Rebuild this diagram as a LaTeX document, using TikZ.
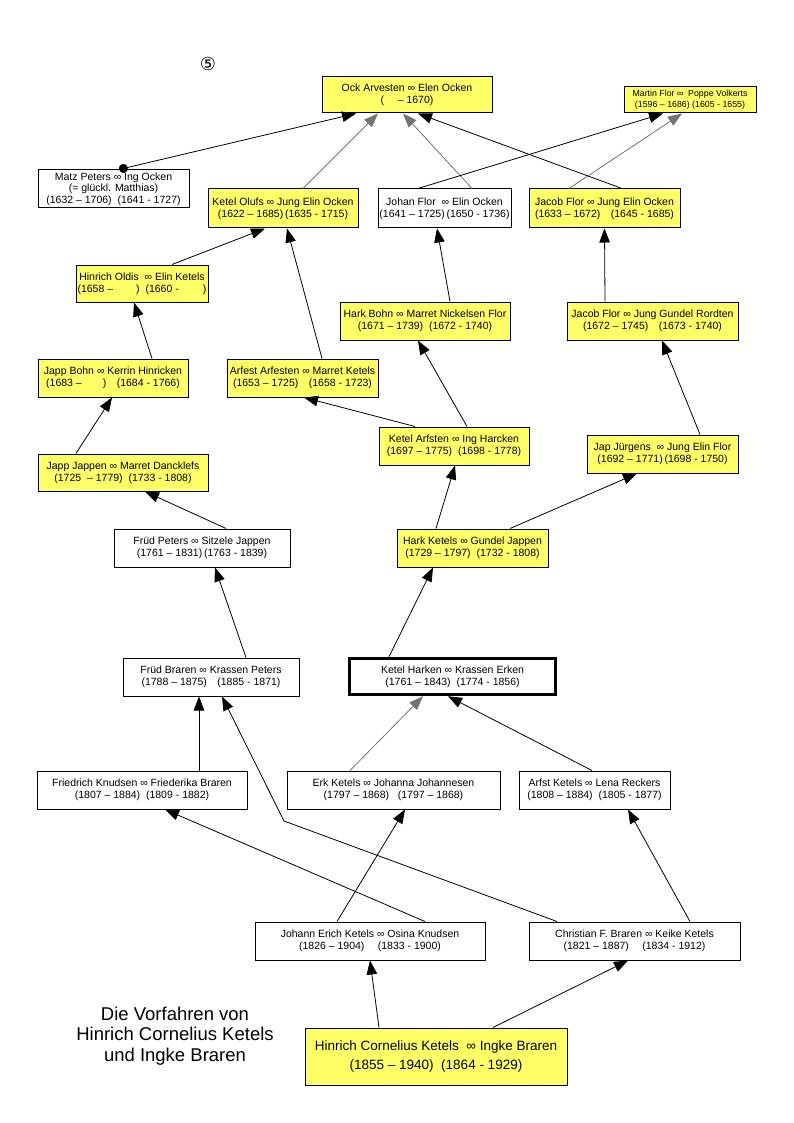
\documentclass[tikz,border=0pt]{standalone}
\usepackage{fontspec}
\setmainfont{Liberation Sans}
\newfontfamily\symfont{DejaVu Sans}
\usetikzlibrary{arrows.meta}

\definecolor{famyellow}{RGB}{255,255,102}

\tikzset{
  fam/.style={draw, fill=famyellow, line width=1pt, minimum height=38, inner sep=1pt, align=center,
    font=\fontsize{10.5}{12}\selectfont},
  famwhite/.style={fam, fill=white},
  link/.style={line width=0.8pt, -{Stealth[length=14pt,width=10.5pt,inset=0pt]}},
  faint/.style={link, draw=black!55}
}

\begin{document}
\begin{tikzpicture}[x=1pt,y=-1pt]

            \useasboundingbox (0,0) rectangle (794,1123);

            \node (five) at (208,64) {\symfont\fontsize{18}{18}\selectfont ⑤};

            % top generation
            \node[fam, minimum width=170, minimum height=36] (ock) at (407,95)
              {Ock Arvesten ∞ Elen Ocken\\(\hspace{1.3em}– 1670)\hspace{60pt}};
            \node[fam, minimum width=132, minimum height=26, font=\fontsize{8.8}{11}\selectfont] (martin) at (690,100)
              {Martin Flor ∞~~Poppe Volkerts\\(1596 – 1686)~(1605 - 1655)};

            \node[famwhite, minimum width=151, font=\fontsize{10.5}{11.5}\selectfont] (matz) at (113.5,189)
              {Matz Peters ∞ Ing Ocken\\(= glückl. Matthias)\hspace{36pt}\\(1632 – 1706)~~(1641 - 1727)};
            \node[fam, minimum width=150, minimum height=39] (olufs) at (283,208.5)
              {Ketel Olufs ∞ Jung Elin Ocken\\(1622 – 1685)\,(1635 - 1715)};
            \node[famwhite, minimum width=133, minimum height=39] (johan) at (444.5,208.5)
              {Johan Flor ~∞ Elin Ocken\\(1641 – 1725)\,(1650 - 1736)};
            \node[fam, minimum width=151, minimum height=39] (jacobflor) at (604.5,208.5)
              {Jacob Flor ∞ Jung Elin Ocken\\(1633 – 1672)\quad(1645 - 1685)};

            \node[fam, minimum width=132, minimum height=37] (oldis) at (142,283.5)
              {Hinrich Oldis ~∞ Elin Ketels\\(1658 –\hspace{2.2em})~~(1660 -\hspace{2.3em})};
            \node[fam, minimum width=170] (harkbohn) at (425,321)
              {Hark Bohn ∞ Marret Nickelsen Flor\\(1671 – 1739)~~(1672 - 1740)};
            \node[fam, minimum width=171] (rordten) at (652.5,321)
              {Jacob Flor ∞ Jung Gundel Rordten\\(1672 – 1745)\quad(1673 - 1740)};

            \node[fam, minimum width=150] (jappbohn) at (113,378)
              {Japp Bohn ∞ Kerrin Hinricken\\(1683 –\hspace{2em})\quad(1684 - 1766)};
            \node[fam, minimum width=151] (arfest) at (302.5,378)
              {Arfest Arfesten ∞ Marret Ketels\\(1653 – 1725)\quad(1658 - 1723)};
            \node[fam, minimum width=150] (ketelarf) at (454,446)
              {Ketel Arfsten ∞ Ing Harcken\\(1697 – 1775)~~(1698 - 1778)};
            \node[fam, minimum width=170, minimum height=37] (jappjappen) at (123,472.5)
              {Japp Jappen ∞ Marret Dancklefs\\(1725~~– 1779)~~(1733 - 1808)};
            \node[fam, minimum width=151] (jurgens) at (662.5,454)
              {Jap Jürgens~~∞ Jung Elin Flor\\(1692 – 1771)\,(1698 - 1750)};

            \node[famwhite, minimum width=176] (frudpeters) at (202,548)
              {Früd Peters ∞ Sitzele Jappen\\(1761 – 1831)\,(1763 - 1839)};
            \node[fam, minimum width=151] (harkketels) at (472.5,548)
              {Hark Ketels ∞ Gundel Jappen\\(1729 – 1797)~~(1732 - 1808)};

            \node[famwhite, minimum width=176] (frudbraren) at (211,677)
              {Früd Braren ∞ Krassen Peters\\(1788 – 1875)\quad(1885 - 1871)};
            \node[famwhite, line width=3.5pt, minimum width=206, minimum height=36] (ketelharken) at (452.5,676.5)
              {Ketel Harken ∞ Krassen Erken\\(1761 – 1843)~~(1774 - 1856)};

            \node[famwhite, minimum width=210] (knudsen) at (142,790)
              {Friedrich Knudsen ∞ Friederika Braren\\(1807 – 1884)~~(1809 - 1882)};
            \node[famwhite, minimum width=213] (erk) at (393.5,790)
              {Erk Ketels ∞ Johanna Johannesen\\(1797 – 1868)~~~(1797 – 1868)};
            \node[famwhite, minimum width=151] (arfst) at (594.5,790)
              {Arfst Ketels ∞ Lena Reckers\\(1808 – 1884)~~(1805 - 1877)};

            \node[famwhite, minimum width=230] (johann) at (370,941)
              {Johann Erich Ketels ∞ Osina Knudsen\\(1826 – 1904)\quad~(1833 - 1900)};
            \node[famwhite, minimum width=211] (christian) at (634.5,941)
              {Christian F. Braren ∞ Keike Ketels\\(1821 – 1887)\quad~(1834 - 1912)};

            \node[fam, minimum width=262, minimum height=57, font=\fontsize{13.5}{19}\selectfont] (hinrich) at (436,1056.5)
              {Hinrich Cornelius Ketels~~∞ Ingke Braren\\(1855 – 1940)~~(1864 - 1929)};

            \node[align=center, font=\fontsize{18.5}{20.5}\selectfont] (title) at (175,1036)
              {Die Vorfahren von\\Hinrich Cornelius Ketels\\und Ingke Braren};

            \coordinate (bend) at (284,821);

            % connectors, child to parents
            \draw[link, {Circle[length=9pt]}-{Stealth[length=14pt,width=10.5pt,inset=0pt]}]
              ([xshift=5.5]matz.north) -- ([xshift=-51]ock.south);
            \draw[faint] ([xshift=20]olufs.north) -- ([xshift=-29]ock.south);
            \draw[faint] ([xshift=27.5]johan.north) -- ([xshift=-4]ock.south);
            \draw[link] ([xshift=17.5]jacobflor.north) -- ([xshift=11]ock.south);
            \draw[link] ([xshift=-26.5]johan.north) -- ([xshift=-27]martin.south);
            \draw[faint] ([xshift=-35.5]jacobflor.north) -- ([xshift=-8]martin.south);

            \draw[link] ([xshift=30]oldis.north) -- ([xshift=-18]olufs.south);
            \draw[link] ([xshift=19.5]arfest.north) -- ([xshift=4]olufs.south);
            \draw[link] ([xshift=25]harkbohn.north) -- ([xshift=-7.5]johan.south);
            \draw[link] ([xshift=-47.5]rordten.north) -- (jacobflor.south);

            \draw[link] ([xshift=39]jappbohn.north) -- ([xshift=-8]oldis.south);
            \draw[link] ([xshift=13]ketelarf.north) -- ([xshift=-7]harkbohn.south);
            \draw[link] ([xshift=-39]ketelarf.north) -- ([xshift=1.5]arfest.south);
            \draw[link] ([xshift=-47]jappjappen.north) -- ([xshift=-1]jappbohn.south);
            \draw[link] ([xshift=37.5]jurgens.north) -- ([xshift=9.5]rordten.south);

            \draw[link] ([xshift=24]frudpeters.north) -- ([xshift=22]jappjappen.south);
            \draw[link] ([xshift=-36.5]harkketels.north) -- ([xshift=1]ketelarf.south);
            \draw[link] ([xshift=37.5]harkketels.north) -- ([xshift=-25.5]jurgens.south);

            \draw[link] ([xshift=35]frudbraren.north) -- ([xshift=13]frudpeters.south);
            \draw[link] ([xshift=-63.5]ketelharken.north) -- ([xshift=-39.5]harkketels.south);

            \draw[link] ([xshift=57]knudsen.north) -- ([xshift=-12]frudbraren.south);
            \draw[link] ([xshift=-77.5]christian.north) -- (bend) -- ([xshift=11]frudbraren.south);
            \draw[faint] ([xshift=-43.5]erk.north) -- ([xshift=-29.5]ketelharken.south);
            \draw[link] ([xshift=-2.5]arfst.north) -- ([xshift=-4.5]ketelharken.south);

            \draw[link] ([xshift=-33]johann.north) -- ([xshift=11.5]erk.south);
            \draw[link] ([xshift=55]johann.north) -- ([xshift=23]knudsen.south);
            \draw[link] ([xshift=55.5]christian.north) -- ([xshift=33.5]arfst.south);

            \draw[link] ([xshift=-57]hinrich.north) -- (johann.south);
            \draw[link] ([xshift=57]hinrich.north) -- ([xshift=-6.5]christian.south);

          \end{tikzpicture}
\end{document}
